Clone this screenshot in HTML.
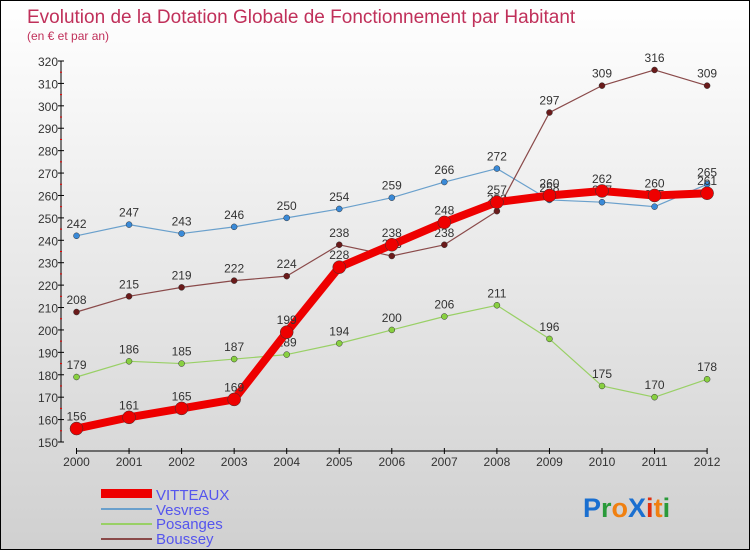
<!DOCTYPE html>
<html><head><meta charset="utf-8"><style>
body{margin:0;}
#wrap{position:relative;width:748px;height:548px;border:1px solid #000;background:linear-gradient(#ffffff,#d0d0d0);font-family:"Liberation Sans",sans-serif;overflow:hidden}
svg text{font-family:"Liberation Sans",sans-serif}
</style></head><body>
<div id="wrap">
<svg id="chart" width="748" height="548">
<text x="26" y="22" font-size="19" fill="#c0305a">Evolution de la Dotation Globale de Fonctionnement par Habitant</text>
<text x="26" y="39" font-size="12" fill="#c0305a">(en € et par an)</text>
<g id="axes"></g><g id="series"></g>
<g>
<rect x="100" y="488" width="51" height="9" fill="#e00"/>
<text x="155" y="499" font-size="15" fill="#5555ee">VITTEAUX</text>
<rect x="100" y="507" width="51" height="2" fill="#6aa0cc"/>
<text x="155" y="514" font-size="15" fill="#5555ee">Vesvres</text>
<rect x="100" y="522" width="51" height="2" fill="#99d066"/>
<text x="155" y="528" font-size="15" fill="#5555ee">Posanges</text>
<rect x="100" y="537" width="51" height="2" fill="#8a4a4a"/>
<text x="155" y="543" font-size="15" fill="#5555ee">Boussey</text>
</g>
<text x="582" y="516" font-size="27" font-weight="bold"><tspan fill="#1a6fd0">P</tspan><tspan fill="#2a9a3a">r</tspan><tspan fill="#f08010">o</tspan><tspan fill="#1a6fd0">X</tspan><tspan fill="#e03010">i</tspan><tspan fill="#f08010">t</tspan><tspan fill="#2a9a3a">i</tspan></text>
</svg></div>
<script>
const years=[2000,2001,2002,2003,2004,2005,2006,2007,2008,2009,2010,2011,2012];
const vitteaux=[156,161,165,169,199,228,238,248,257,260,262,260,261];
const vesvres=[242,247,243,246,250,254,259,266,272,258,257,255,265];
const posanges=[179,186,185,187,189,194,200,206,211,196,175,170,178];
const boussey=[208,215,219,222,224,238,233,238,253,297,309,316,309];
const yTicks=[150,160,170,180,190,200,210,220,230,240,250,260,270,280,290,300,310,320];
const NS="http://www.w3.org/2000/svg";
const X=i=>75.5+i*52.55;
const Y=v=>441-(v-150)*(381/170);
function mk(t,a,p){const e=document.createElementNS(NS,t);for(const k in a)e.setAttribute(k,a[k]);p.appendChild(e);return e;}
const ax=document.getElementById('axes');
let l=mk('line',{x1:60,y1:Y(320),x2:60,y2:Y(150),stroke:'#000'},ax);


yTicks.forEach(v=>{
 const t=mk('line',{x1:57,x2:63,y1:Y(v),y2:Y(v),stroke:'#000'},ax);
 
 
 if(v<320){const m=mk('line',{x1:59,x2:61,y1:Y(v+5),y2:Y(v+5),stroke:'#e00'},ax);
 
 }
 const tx=mk('text',{x:57,y:Y(v)+5,'font-size':12,fill:'#333','text-anchor':'end'},ax);tx.textContent=v;
 
 
});
l=mk('line',{x1:X(0),y1:450,x2:X(12),y2:450,stroke:'#000'},ax);


years.forEach((y,i)=>{
 const t=mk('line',{x1:X(i),x2:X(i),y1:447,y2:453,stroke:'#000'},ax);
 
 
 const tx=mk('text',{x:X(i),y:465,'font-size':12,fill:'#333','text-anchor':'middle'},ax);tx.textContent=y;
 
 
});
const sg=document.getElementById('series');
function draw(name,data,color,w,r,dot){
 const g=mk('g',{},sg);
 
 
 const pl=mk('polyline',{points:data.map((v,i)=>X(i)+','+Y(v)).join(' '),fill:'none',stroke:color,'stroke-width':w,'stroke-linejoin':'round'},g);
 
 
 data.forEach((v,i)=>{
  const c=mk('circle',{cx:X(i),cy:Y(v),r:r,fill:dot,stroke:'#333','stroke-width':0.5},g);
  
  
  const t=mk('text',{x:X(i),y:Y(v)-8,'font-size':12,fill:'#333','text-anchor':'middle'},g);t.textContent=v;
  
  
 });
}
draw('vesvres',vesvres,'#6aa0cc',1.2,3,'#3a8ad8');
draw('posanges',posanges,'#99d066',1.2,3,'#88d040');
draw('boussey',boussey,'#8a4a4a',1.2,3,'#6a1a1a');
draw('vitteaux',vitteaux,'#ee0000',8,6.5,'#ee0000');
</script>
</body></html>
